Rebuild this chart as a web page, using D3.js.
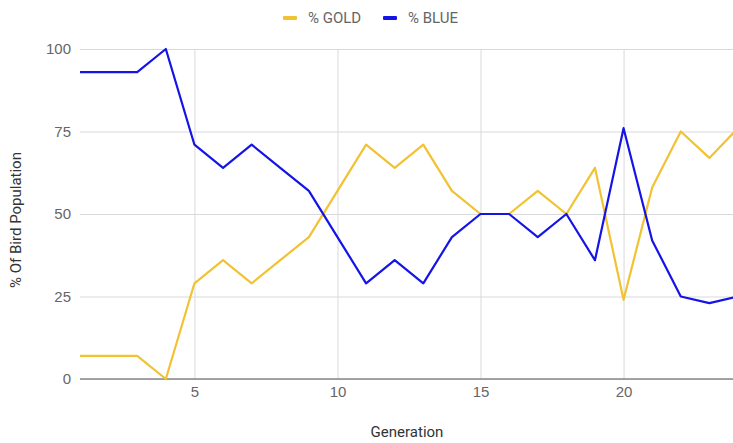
<!DOCTYPE html>
<html>
<head>
<meta charset="utf-8">
<script src="https://cdn.jsdelivr.net/npm/d3@7"></script>
<style>
  html, body { margin: 0; padding: 0; background: #fff; }
  svg { display: block; font-family: Roboto, "Noto Sans", Arial, sans-serif; }
</style>
</head>
<body>
<svg id="chart" width="733" height="443"></svg>
<script>
// Generations and share of each colour morph in the bird population (%)
const generations = [1, 2, 3, 4, 5, 6, 7, 8, 9, 10, 11, 12, 13, 14, 15, 16, 17, 18, 19, 20, 21, 22, 23, 24];
const goldPct = [7, 7, 7, 0, 29, 36, 29, 36, 43, 57, 71, 64, 71, 57, 50, 50, 57, 50, 64, 24, 58, 75, 67, 76];
const bluePct = [93, 93, 93, 100, 71, 64, 71, 64, 57, 43, 29, 36, 29, 43, 50, 50, 43, 50, 36, 76, 42, 25, 23, 25];
const xTicks = [5, 10, 15, 20];
const yTicks = [0, 25, 50, 75, 100];
const seriesNames = ["% GOLD", "% BLUE"];
const seriesColors = ["#f1c232", "#1414e6"];

const svg = d3.select("#chart");
const W = 733, H = 443;
const plot = { left: 80, right: 738, top: 49, bottom: 379 };

const x = d3.scaleLinear().domain([1, 24]).range([plot.left, plot.right]);
const y = d3.scaleLinear().domain([0, 100]).range([plot.bottom, plot.top]);

svg.append("defs").append("clipPath").attr("id", "clip")
  .append("rect").attr("x", plot.left).attr("y", 0).attr("width", W - plot.left).attr("height", H);

// Horizontal gridlines + y labels
const yAxis = d3.axisLeft(y).tickValues(yTicks).tickSize(-(W - plot.left)).tickPadding(9);
const gy = svg.append("g").attr("transform", `translate(${plot.left},0)`).call(yAxis);
gy.select(".domain").remove();
gy.selectAll(".tick line").attr("stroke", "#d9d9d9").attr("stroke-width", 1);
gy.selectAll(".tick text").attr("fill", "#666").attr("font-size", 15);

// Vertical gridlines + x labels
const xAxis = d3.axisBottom(x).tickValues(xTicks).tickSize(-(plot.bottom - plot.top)).tickPadding(7);
const gx = svg.append("g").attr("transform", `translate(0,${plot.bottom})`).call(xAxis);
gx.select(".domain").remove();
gx.selectAll(".tick line").attr("stroke", "#d9d9d9").attr("stroke-width", 1);
gx.selectAll(".tick text").attr("fill", "#666").attr("font-size", 15);

// Baseline
svg.append("line")
  .attr("x1", plot.left).attr("x2", W)
  .attr("y1", y(0)).attr("y2", y(0))
  .attr("stroke", "#888").attr("stroke-width", 1.5);

// Series lines
const line = d3.line().x(d => x(d[0])).y(d => y(d[1]));
const series = [goldPct, bluePct];
const lines = svg.append("g").attr("clip-path", "url(#clip)");
series.forEach((vals, i) => {
  lines.append("path")
    .datum(generations.map((g, j) => [g, vals[j]]))
    .attr("d", line)
    .attr("fill", "none")
    .attr("stroke", seriesColors[i])
    .attr("stroke-width", 2.2)
    .attr("stroke-linejoin", "round");
});

// Axis titles
svg.append("text")
  .attr("x", 407).attr("y", 437)
  .attr("text-anchor", "middle")
  .attr("font-size", 15).attr("fill", "#333")
  .text("Generation");

svg.append("text")
  .attr("transform", `translate(21,220) rotate(-90)`)
  .attr("text-anchor", "middle")
  .attr("font-size", 15).attr("fill", "#333")
  .text("% Of Bird Population");

// Legend
const legendX = [283, 383];
const legend = svg.append("g");
seriesNames.forEach((name, i) => {
  legend.append("rect")
    .attr("x", legendX[i]).attr("y", 16)
    .attr("width", 14).attr("height", 4)
    .attr("rx", 1)
    .attr("fill", seriesColors[i]);
  legend.append("text")
    .attr("x", legendX[i] + 25).attr("y", 23)
    .attr("font-size", 15).attr("fill", "#666")
    .text(name);
});
</script>
</body>
</html>
